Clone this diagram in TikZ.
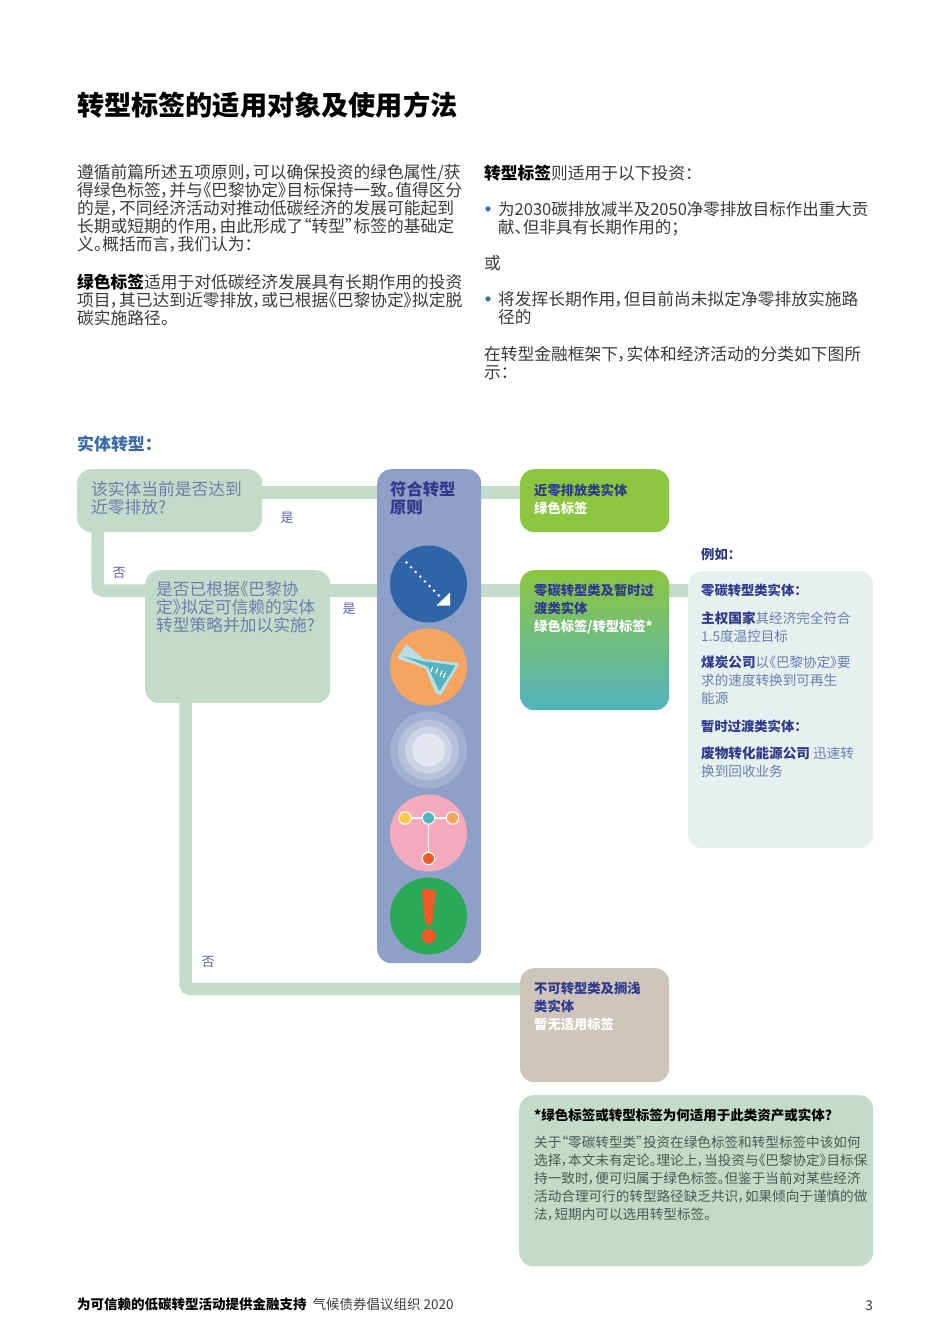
\documentclass[tikz,border=0pt]{standalone}
\usepackage{fontspec}
\setmainfont{Noto Sans CJK SC}[RawFeature={+palt}]
\usetikzlibrary{backgrounds}
\definecolor{linkgreen}{HTML}{C3DCC9}
\definecolor{bandblue}{HTML}{8E9FC8}
\definecolor{navy}{HTML}{2E3A8C}
\definecolor{softblue}{HTML}{6880AE}
\definecolor{headblue}{HTML}{3A6BA8}
\definecolor{labelblue}{HTML}{5C62A4}
\definecolor{leafgreen}{HTML}{8DC63F}
\definecolor{tealend}{HTML}{52B4BF}
\definecolor{paleteal}{HTML}{E6F0EF}
\definecolor{stone}{HTML}{CFC5BA}
\definecolor{bodygray}{HTML}{3A3A3A}
\definecolor{notegray}{HTML}{4A5A52}
\definecolor{arrowblue}{HTML}{2F65A7}
\definecolor{orangeicon}{HTML}{F5A55F}
\definecolor{redicon}{HTML}{F15A29}
\definecolor{pinkicon}{HTML}{F5AABE}
\definecolor{yellowicon}{HTML}{FFC94A}
\definecolor{greenicon}{HTML}{2AA956}
\tikzset{
    panel/.style={rounded corners=14, anchor=north west, inner sep=0},
    link/.style={draw=linkgreen, line width=12.5},
    txt/.style={anchor=north west, inner sep=0, align=left, font=\fontsize{16.75}{18}\selectfont, text=bodygray},
    smalltxt/.style={txt, font=\fontsize{13.6}{18}\selectfont},
    boldtxt/.style={txt, font=\fontsize{13.3}{18}\selectfont\bfseries, text=navy},
    tag/.style={anchor=center, inner sep=0, font=\fontsize{13}{16}\selectfont, text=labelblue},
    bullet/.style={anchor=center, inner sep=0, font=\fontsize{24}{24}\selectfont, text=headblue},
    icon/.style={circle, inner sep=0, minimum size=77},
}
\begin{document}
\begin{tikzpicture}[x=1pt, y=-1pt]
    \useasboundingbox (0,0) rectangle (950,1344);

    % boxes
    \node[panel, fill=linkgreen, minimum width=185, minimum height=63] (q1) at (77,469) {};
    \node[panel, fill=linkgreen, minimum width=185, minimum height=133] (q2) at (145,570) {};
    \node[panel, fill=bandblue, minimum width=104, minimum height=494] (band) at (377,469) {};
    \node[panel, fill=leafgreen, minimum width=149, minimum height=63] (nearzero) at (520,469) {};
    \node[panel, top color=leafgreen, bottom color=tealend, minimum width=149, minimum height=140] (zerotrans) at (520,570) {};
    \node[panel, fill=paleteal, minimum width=185, minimum height=277] (examples) at (688,571) {};
    \node[panel, fill=stone, minimum width=149, minimum height=114] (stranded) at (520,968) {};
    \node[panel, fill=linkgreen, minimum width=354, minimum height=171] (why) at (519,1095) {};

    % connectors
    \coordinate (rowA) at (0,492.5);
    \coordinate (rowB) at (0,590.5);
    \coordinate (rowC) at (0,989);
    \coordinate (colA) at (97.5,0);
    \coordinate (colB) at (185.5,0);
    \begin{scope}[on background layer]
        \draw[link] (q1 |- rowA) -- (nearzero |- rowA);
        \draw[link] (q2 |- rowB) -- (examples |- rowB);
        \draw[link, rounded corners=5] (colA |- q1) -- (colA |- rowB) -- (q2 |- rowB);
        \draw[link, rounded corners=5] (colB |- q2) -- (colB |- rowC) -- (stranded |- rowC);
    \end{scope}

    % icons
    \node[icon, fill=arrowblue] (arrowicon) at (428.5,584) {};
    \foreach \i in {0,...,7} {
        \fill[white] (406.5+\i*4.6,562.5+\i*4.7) circle (1.4);
    }
    \fill[white] (450,592.5) -- (450,605.5) -- (436.5,605.5) -- cycle;

    \node[icon, fill=orangeicon] (flaskicon) at (428.5,667) {};
    \fill[paleteal!70!tealend, rounded corners=1.5] (406.3,644) -- (423.7,659) -- (459.5,663) -- (441,695.5) -- (436,694) -- (425.3,668.3) -- (397,658.3) -- cycle;
    \fill[tealend, rounded corners=1] (402,656) -- (422,661) -- (455.5,665.5) -- (439.3,691.5) -- (428,666.7) -- cycle;
    \foreach \px/\py in {432.7/666.7, 437.7/668.3, 442/670.7, 445.3/672.7} {
        \draw[white, line width=1.2] (\px,\py) -- (\px-1.8,\py+5);
    }

    \node[icon, fill=white!18!bandblue] (ringicon) at (428.5,750) {};
    \fill[white!35!bandblue] (ringicon) circle (30.5);
    \fill[white!55!bandblue] (ringicon) circle (23.5);
    \fill[white!75!bandblue] (ringicon) circle (16.5);

    \node[icon, fill=pinkicon] (treeicon) at (428.5,833) {};
    \draw[white, line width=1.1] (405,818) -- (452.5,818) (428.5,818) -- (428.5,858.5);
    \foreach \px/\py/\col in {405/818/yellowicon, 428.5/818/tealend, 452.5/818/orangeicon, 428.5/858.5/redicon} {
        \fill[\col, draw=white, line width=1.1] (\px,\py) circle (6.2);
    }

    \node[icon, fill=greenicon] (alerticon) at (428.5,916) {};
    \fill[redicon, rounded corners=1] (421.5,890) -- (436,890) -- (432,925) -- (425.5,925) -- cycle;
    \fill[redicon] (428.7,936) circle (7.3);

    % page text
    \node[txt, font=\fontsize{27.15}{30}\selectfont\bfseries, text=black] (title) at (77,92) {转型标签的适用对象及使用方法};
    \node[txt] (introA) at (77,164.5) {遵循前篇所述五项原则，可以确保投资的绿色属性/获\\得绿色标签，并与《巴黎协定》目标保持一致。值得区分\\的是，不同经济活动对推动低碳经济的发展可能起到\\长期或短期的作用，由此形成了“转型”标签的基础定\\义。概括而言，我们认为：};
    \node[txt] (introB) at (77,273.5) {\textbf{\textcolor{black}{绿色标签}}适用于对低碳经济发展具有长期作用的投资\\项目，其已达到近零排放，或已根据《巴黎协定》拟定脱\\碳实施路径。};
    \node[txt] (transA) at (484,164.5) {\textbf{\textcolor{black}{转型标签}}则适用于以下投资：};
    \node[bullet] (dotA) at (488.5,212.5) {•};
    \node[txt, font=\fontsize{16.5}{18}\selectfont] (transB) at (498,201.5) {为2030碳排放减半及2050净零排放目标作出重大贡\\献、但非具有长期作用的；};
    \node[txt] (transC) at (484,255) {或};
    \node[bullet] (dotB) at (488.5,302.5) {•};
    \node[txt] (transD) at (498,291) {将发挥长期作用，但目前尚未拟定净零排放实施路\\径的};
    \node[txt] (transE) at (484,346.5) {在转型金融框架下，实体和经济活动的分类如下图所\\示：};

    % flow text
    \node[txt, font=\fontsize{16.9}{18}\selectfont\bfseries, text=headblue] (flowhead) at (77,436) {实体转型：};
    \node[txt, text=softblue] (q1txt) at (91,481) {该实体当前是否达到\\近零排放?};
    \node[txt, text=softblue] (q2txt) at (156,581) {是否已根据《巴黎协\\定》拟定可信赖的实体\\转型策略并加以实施?};
    \node[txt, font=\fontsize{16.3}{18}\selectfont\bfseries, text=navy] (bandtxt) at (390,481) {符合转型\\原则};
    \node[tag] (yesA) at (287,518) {是};
    \node[tag] (noA) at (119,573) {否};
    \node[tag] (yesB) at (349,609) {是};
    \node[tag] (noB) at (208,962) {否};

    \node[boldtxt] (nearzerotxt) at (534,484) {近零排放类实体\\\textcolor{white}{绿色标签}};
    \node[boldtxt] (zerotranstxt) at (534,584) {零碳转型类及暂时过\\渡类实体\\\textcolor{white}{绿色标签/转型标签*}};
    \node[boldtxt] (strandedtxt) at (534,982) {不可转型类及搁浅\\类实体\\\textcolor{white}{暂无适用标签}};

    \node[boldtxt] (egtxt) at (701,548) {例如：};
    \node[boldtxt] (egA) at (701,584) {零碳转型类实体：};
    \node[smalltxt, text=softblue] (egB) at (701,611) {\textbf{\textcolor{navy}{主权国家}}其经济完全符合\\1.5度温控目标};
    \node[smalltxt, text=softblue] (egC) at (701,656) {\textbf{\textcolor{navy}{煤炭公司}}以《巴黎协定》要\\求的速度转换到可再生\\能源};
    \node[boldtxt] (egD) at (701,720) {暂时过渡类实体：};
    \node[smalltxt, text=softblue] (egE) at (701,747) {\textbf{\textcolor{navy}{废物转化能源公司}} 迅速转\\换到回收业务};

    \node[boldtxt, text=black, font=\fontsize{13.5}{18}\selectfont\bfseries] (whyhead) at (534,1109) {*绿色标签或转型标签为何适用于此类资产或实体?};
    \node[smalltxt, text=notegray] (whytxt) at (534,1136) {关于“零碳转型类”投资在绿色标签和转型标签中该如何\\选择，本文未有定论。理论上，当投资与《巴黎协定》目标保\\持一致时，便可归属于绿色标签。但鉴于当前对某些经济\\活动合理可行的转型路径缺乏共识，如果倾向于谨慎的做\\法，短期内可以选用转型标签。};

    % footer
    \node[smalltxt, text=bodygray, font=\fontsize{13.5}{18}\selectfont] (foot) at (77,1298) {\textbf{\textcolor{black}{为可信赖的低碳转型活动提供金融支持}}\hspace{6pt}气候债券倡议组织 2020};
    \node[smalltxt, anchor=north east, text=bodygray] (pagenum) at (873,1300) {3};
\end{tikzpicture}
\end{document}
